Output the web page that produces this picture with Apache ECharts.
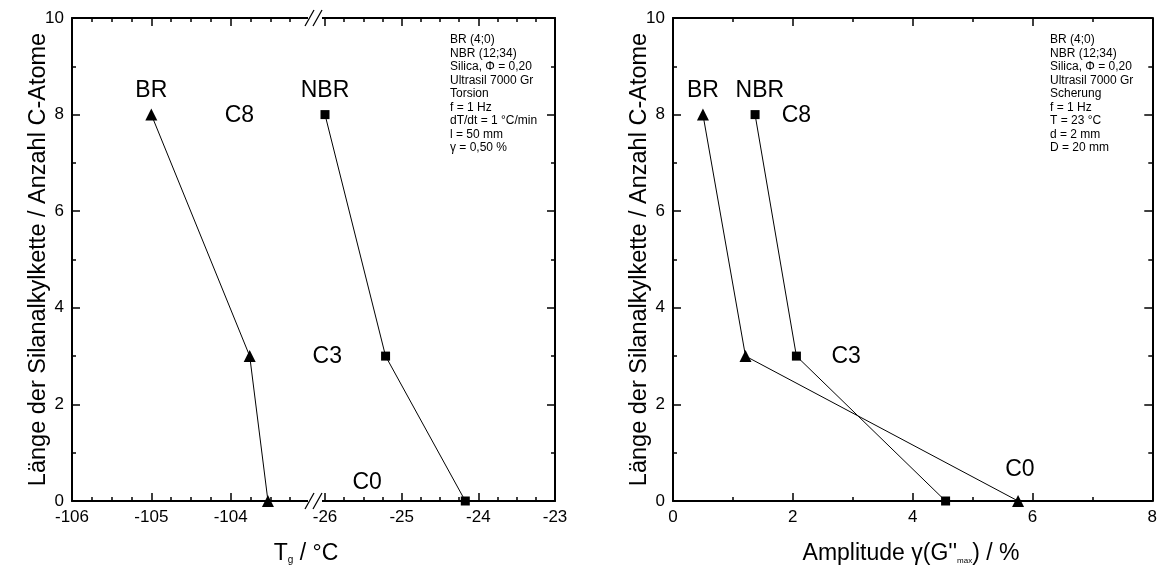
<!DOCTYPE html>
<html><head><meta charset="utf-8">
<script src="https://cdn.jsdelivr.net/npm/echarts@6/dist/echarts.min.js"></script>
<style>html,body{margin:0;padding:0;background:#fff}#c{width:1160px;height:567px}</style>
</head><body><div id="c"></div>
<script>
// ---- data ----
const levels = [8, 3, 0];                       // C-atoms of silane alkyl chain
const tgBR = [-105.0, -103.76, -103.53];         // Tg BR (°C)
const tgNBR = [-26.0, -25.21, -24.17];           // Tg NBR (°C)
const ampBR = [0.5, 1.21, 5.76];                 // amplitude BR (%)
const ampNBR = [1.37, 2.06, 4.55];               // amplitude NBR (%)
const yTicks = [0, 10, 2];                       // min, max, interval
const tgLowTicks = [-106, -103, 1];
const tgHighTicks = [-26, -23, 1];
const ampTicks = [0, 8, 2];
const leftLabelsLow = [{name: 'BR', value: [-105.0, 8.5]}, {name: 'C8', value: [-103.89, 7.97]}];
const leftLabelsHigh = [{name: 'NBR', value: [-26.0, 8.5]}, {name: 'C3', value: [-25.97, 2.98]}, {name: 'C0', value: [-25.45, 0.39]}];
const rightLabels = [{name: 'BR', value: [0.5, 8.5]}, {name: 'NBR', value: [1.45, 8.5]}, {name: 'C8', value: [2.06, 7.97]}, {name: 'C3', value: [2.89, 2.98]}, {name: 'C0', value: [5.79, 0.64]}];
const infoLeft = ['BR (4;0)', 'NBR (12;34)', 'Silica, \u03A6 = 0,20', 'Ultrasil 7000 Gr', 'Torsion', 'f = 1 Hz', 'dT/dt = 1 \u00B0C/min', 'l = 50 mm', '\u03B3 = 0,50 %'];
const infoRight = ['BR (4;0)', 'NBR (12;34)', 'Silica, \u03A6 = 0,20', 'Ultrasil 7000 Gr', 'Scherung', 'f = 1 Hz', 'T = 23 \u00B0C', 'd = 2 mm', 'D = 20 mm'];
const yName = 'L\u00E4nge der Silanalkylkette / Anzahl C-Atome';

// ---- build ----
const FONT = 'Liberation Sans, Arial, sans-serif';
const zip = (xs, ys) => xs.map((x, i) => [x, ys[i]]);
const black = '#000';

function axis(dim, grid, pos, ticks, minorSplit, showLabels, extra) {
  return Object.assign({
    type: 'value', gridIndex: grid, position: pos,
    min: ticks[0], max: ticks[1], interval: ticks[2],
    axisLine: {show: true, onZero: false, lineStyle: {color: black, width: 2}},
    axisTick: {show: true, inside: true, length: 8, lineStyle: {color: black, width: 1.5}},
    minorTick: {show: true, splitNumber: minorSplit, length: 4, lineStyle: {color: black, width: 1.5}},
    splitLine: {show: false}, minorSplitLine: {show: false},
    axisLabel: {show: showLabels, color: black, fontSize: 17, fontFamily: FONT, margin: 8}
  }, extra || {});
}

const yNameCfg = {
  name: yName, nameLocation: 'middle', nameGap: 21, nameMoveOverlap: false,
  nameTextStyle: {color: black, fontSize: 23.5, fontFamily: FONT}
};

const xAxes = [
  axis('x', 0, 'bottom', tgLowTicks, 4, true, {axisLabel: {show: true, color: black, fontSize: 17, fontFamily: FONT, margin: 8, formatter: v => (v === -103 ? '' : String(v))}}),
  axis('x', 0, 'top', tgLowTicks, 4, false),
  axis('x', 1, 'bottom', tgHighTicks, 4, true),
  axis('x', 1, 'top', tgHighTicks, 4, false),
  axis('x', 2, 'bottom', ampTicks, 2, true),
  axis('x', 2, 'top', ampTicks, 2, false)
];
const yAxes = [
  axis('y', 0, 'left', yTicks, 2, true, yNameCfg),
  axis('y', 1, 'right', yTicks, 2, false),
  axis('y', 2, 'left', yTicks, 2, true, yNameCfg),
  axis('y', 2, 'right', yTicks, 2, false)
];

function lineSeries(name, xi, yi, data, symbol, size) {
  return {
    type: 'line', name, xAxisIndex: xi, yAxisIndex: yi, data,
    symbol, symbolSize: size, showSymbol: true,
    lineStyle: {color: black, width: 1}, itemStyle: {color: black}, z: 3
  };
}
function labelSeries(xi, yi, data) {
  return {
    type: 'scatter', xAxisIndex: xi, yAxisIndex: yi, data,
    symbol: 'circle', symbolSize: 1, itemStyle: {color: '#fff', opacity: 1}, silent: true, z: 4,
    label: {show: true, position: 'inside', formatter: '{b}', color: black, opacity: 1,
            textBorderWidth: 0, textBorderColor: 'transparent', fontSize: 23, fontFamily: FONT},
    emphasis: {disabled: true}
  };
}

function slashes(y) {
  return [
    {type: 'rect', shape: {x: 308, y: y - 9, width: 14, height: 18}, style: {fill: '#fff'}, z: 50},
    {type: 'line', shape: {x1: 322, y1: y, x2: 326, y2: y}, style: {stroke: black, lineWidth: 2}, z: 51},
    {type: 'line', shape: {x1: 305, y1: y + 8, x2: 314, y2: y - 8}, style: {stroke: black, lineWidth: 1.3}, z: 51},
    {type: 'line', shape: {x1: 313, y1: y + 8, x2: 322, y2: y - 8}, style: {stroke: black, lineWidth: 1.3}, z: 51}
  ];
}

const option = {
  animation: false,
  backgroundColor: '#fff',
  grid: [
    {left: 72, top: 18, width: 238, height: 483},
    {left: 325, top: 18, width: 230, height: 483},
    {left: 673, top: 18, width: 482, height: 483}
  ],
  xAxis: xAxes,
  yAxis: yAxes,
  series: [
    lineSeries('BR', 0, 0, zip(tgBR, levels), 'triangle', 12),
    lineSeries('NBR', 2, 1, zip(tgNBR, levels), 'rect', 9),
    lineSeries('BR', 4, 2, zip(ampBR, levels), 'triangle', 12),
    lineSeries('NBR', 4, 2, zip(ampNBR, levels), 'rect', 9),
    labelSeries(0, 0, leftLabelsLow),
    labelSeries(2, 1, leftLabelsHigh),
    labelSeries(4, 2, rightLabels)
  ],
  graphic: [
    ...slashes(18), ...slashes(501),
    {type: 'text', x: 450, y: 33, z: 60, style: {text: infoLeft.join('\n'), font: '12px ' + FONT, fill: black, lineHeight: 13.5}},
    {type: 'text', x: 1050, y: 33, z: 60, style: {text: infoRight.join('\n'), font: '12px ' + FONT, fill: black, lineHeight: 13.5}},
    {type: 'text', x: 306, y: 551, z: 60, style: {
      text: '{a|T}{s|g}{a| / \u00B0C}', align: 'center', verticalAlign: 'middle',
      rich: {a: {fontSize: 23, fontFamily: FONT, fill: black, lineHeight: 28, verticalAlign: 'bottom'},
             s: {fontSize: 10, fontFamily: FONT, fill: black, lineHeight: 10, verticalAlign: 'bottom'}}}},
    {type: 'text', x: 911, y: 551, z: 60, style: {
      text: '{a|Amplitude \u03B3(G\'\'}{s|max}{a|) / %}', align: 'center', verticalAlign: 'middle',
      rich: {a: {fontSize: 23, fontFamily: FONT, fill: black, lineHeight: 28, verticalAlign: 'bottom'},
             s: {fontSize: 8, fontFamily: FONT, fill: black, lineHeight: 10, verticalAlign: 'bottom'}}}}
  ]
};

const chart = echarts.init(document.getElementById('c'), null, {renderer: 'canvas'});
chart.setOption(option);
</script>
</body></html>
